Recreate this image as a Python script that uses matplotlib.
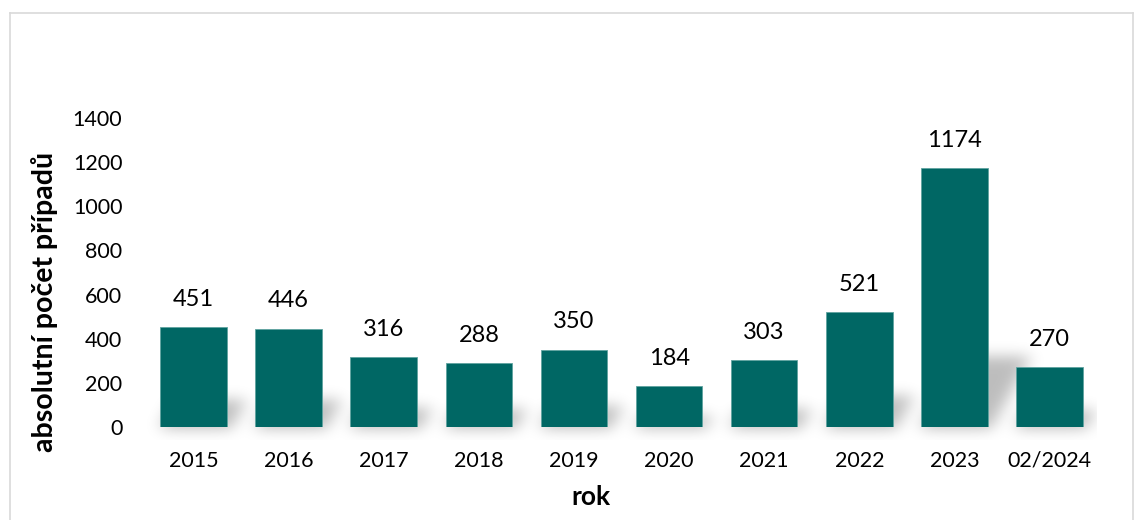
import matplotlib
matplotlib.use("Agg")
import matplotlib.pyplot as plt
import numpy as np
from matplotlib.lines import Line2D
from matplotlib.colors import ListedColormap

categories = ["2015", "2016", "2017", "2018", "2019", "2020", "2021", "2022", "2023", "02/2024"]
values = [451, 446, 316, 288, 350, 184, 303, 521, 1174, 270]
yticks = [0, 200, 400, 600, 800, 1000, 1200, 1400]

bar_color = "#006764"
font = ["Lato", "DejaVu Sans"]
plt.rcParams["font.family"] = font

W, H = 1135, 520
fig = plt.figure(figsize=(W / 100, H / 100), dpi=100)
ax_l, ax_r, ax_b, ax_t = 146, 1097, 427, 118
ax = fig.add_axes([ax_l / W, 1 - ax_b / H, (ax_r - ax_l) / W, (ax_b - ax_t) / H])

x = np.arange(len(categories))
width = 0.70
xlim = (-0.5, len(categories) - 0.5)
ylim_img = (-60, 1400)

# soft perspective shadow, rasterised and blurred
nx, ny = 951, 320
gx = np.linspace(xlim[0], xlim[1], nx)
gy = np.linspace(ylim_img[0], ylim_img[1], ny)
X, Y = np.meshgrid(gx, gy)
mask = np.zeros_like(X)
for xi, v in zip(x, values):
    sh = v * 0.27
    dx = sh * 0.0013
    t = np.clip(Y / sh, 0, 1)
    left = xi - width / 2 + dx * t
    right = xi + width / 2 + dx * t + 0.05
    inside = (Y >= -10) & (Y <= sh) & (X >= left) & (X <= right)
    mask[inside] = 1.0
def blur(a, sigma, axis):
    r = int(3 * sigma)
    k = np.exp(-0.5 * (np.arange(-r, r + 1) / sigma) ** 2)
    k /= k.sum()
    return np.apply_along_axis(lambda m: np.convolve(m, k, mode="same"), axis, a)
mask = blur(blur(mask, 8, 1), 7, 0)
cmap = ListedColormap(np.array([[0, 0, 0, a] for a in np.linspace(0, 0.26, 256)]))
ax.imshow(mask, extent=(xlim[0], xlim[1], ylim_img[0], ylim_img[1]), origin="lower",
          cmap=cmap, vmin=0, vmax=1, aspect="auto", zorder=1, interpolation="bilinear",
          clip_on=False)

ax.bar(x, values, width=width, color=bar_color, zorder=3,
       edgecolor="#5fa3a0", linewidth=0.6)

for xi, v in zip(x, values):
    ax.annotate(str(v), (xi, v), xytext=(0, 20), textcoords="offset points",
                ha="center", va="center", fontsize=17, color="#000000", zorder=4)

ax.set_xlim(*xlim)
ax.set_ylim(0, 1400)
ax.set_yticks(yticks)
ax.set_xticks(x)
ax.set_xticklabels(categories)
ax.tick_params(axis="both", length=0, labelsize=15.5, colors="#000000")
ax.tick_params(axis="x", pad=17)
ax.tick_params(axis="y", pad=17)
for s in ax.spines.values():
    s.set_visible(False)

ax.set_ylabel("absolutní počet případů", fontsize=20.5, fontweight="bold", va="center")
ax.yaxis.set_label_coords((45 - ax_l) / (ax_r - ax_l), (ax_b - 302) / (ax_b - ax_t))
ax.set_xlabel("rok", fontsize=19, fontweight="bold", va="center")
ax.xaxis.set_label_coords((591 - ax_l) / (ax_r - ax_l), (ax_b - 497) / (ax_b - ax_t))

# chart frame
c = "#d9d9d9"
L, T, R = 9.5 / W, 1 - 12.5 / H, 1133 / W
fig.add_artist(Line2D([L, R], [T, T], transform=fig.transFigure, color=c, lw=1.2))
fig.add_artist(Line2D([L, L], [0, T], transform=fig.transFigure, color=c, lw=1.2))
fig.add_artist(Line2D([R, R], [0, T], transform=fig.transFigure, color=c, lw=1.2))

fig.savefig("out.png", dpi=100)
